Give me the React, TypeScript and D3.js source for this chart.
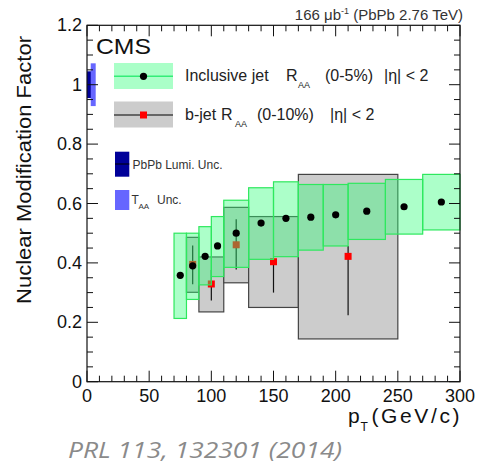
import React from 'react';
import * as d3 from 'd3';

// inclusive jet R_AA (0-5%)
const incPt = [75, 85, 95, 105, 120, 140, 160, 180, 200, 225, 255, 285];
const incLo = [70, 80, 90, 100, 110, 130, 150, 170, 190, 210, 240, 270];
const incHi = [80, 90, 100, 110, 130, 150, 170, 190, 210, 240, 270, 300];
const incVal = [0.358, 0.39, 0.422, 0.457, 0.5, 0.534, 0.55, 0.554, 0.562, 0.574, 0.589, 0.605];
const incSysLo = [0.213, 0.277, 0.326, 0.354, 0.385, 0.412, 0.421, 0.443, 0.457, 0.479, 0.497, 0.511];
const incSysHi = [0.5, 0.5, 0.522, 0.556, 0.611, 0.653, 0.673, 0.664, 0.664, 0.668, 0.681, 0.698];

// b-jet R_AA (0-10%)
const bPt = [85, 100, 120, 150, 210];
const bLo = [80, 90, 110, 130, 170];
const bHi = [90, 110, 130, 170, 250];
const bVal = [0.395, 0.329, 0.461, 0.404, 0.422];
const bStatLo = [0.328, 0.273, 0.378, 0.3, 0.224];
const bStatHi = [0.459, 0.376, 0.547, 0.404, 0.457];
const bSysLo = [0.301, 0.235, 0.333, 0.25, 0.144];
const bSysHi = [0.486, 0.42, 0.587, 0.556, 0.698];

// normalisation uncertainties at unity
const lumiUnc = 0.045;
const taaUnc = 0.072;

const xTicks = [0, 50, 100, 150, 200, 250, 300];
const yTicks = [0, 0.2, 0.4, 0.6, 0.8, 1, 1.2];

const W = 479;
const H = 463;
const left = 87, right = 460, top = 25.3, bottom = 381.7;

const App = () => {
  const x = d3.scaleLinear().domain([0, 300]).range([left, right]);
  const y = d3.scaleLinear().domain([0, 1.2]).range([bottom, top]);

  const xMinor = d3.range(0, 301, 10);
  const yMinor = d3.range(0, 1.2001, 0.05);

  const font = 'Liberation Sans, Arial, sans-serif';
  const ink = '#111';

  const inc = incPt.map((p, i) => ({ p, lo: incLo[i], hi: incHi[i], v: incVal[i], sl: incSysLo[i], sh: incSysHi[i] }));
  const bj = bPt.map((p, i) => ({ p, lo: bLo[i], hi: bHi[i], v: bVal[i], el: bStatLo[i], eh: bStatHi[i], sl: bSysLo[i], sh: bSysHi[i] }));

  const greenFill = 'rgba(47,255,121,0.4)';
  const greenEdge = '#2ee85e';

  return (
    <svg width={W} height={H} style={{ position: 'absolute', left: 0, top: 0, background: '#fff' }}>
      {/* normalisation boxes */}
      <rect x={x(0)} y={y(1 + lumiUnc)} width={x(4) - x(0)} height={y(1 - lumiUnc) - y(1 + lumiUnc)} fill="#000099" />
      <rect x={x(3)} y={y(1 + taaUnc)} width={x(7) - x(3)} height={y(1 - taaUnc) - y(1 + taaUnc)} fill="#6666ff" />

      {/* b-jet systematics */}
      {bj.map((d, i) => (
        <rect key={'bs' + i} x={x(d.lo)} y={y(d.sh)} width={x(d.hi) - x(d.lo)} height={y(d.sl) - y(d.sh)}
          fill="#cccccc" stroke="#444" strokeWidth={1.2} />
      ))}
      {bj.map((d, i) => (
        <g key={'bp' + i}>
          <line x1={x(d.p)} x2={x(d.p)} y1={y(d.eh)} y2={y(d.el)} stroke={ink} strokeWidth={1.2} />
          <rect x={x(d.p) - 3.5} y={y(d.v) - 3.5} width={7} height={7} fill="#ff0000" />
        </g>
      ))}

      {/* inclusive systematics */}
      {inc.map((d, i) => (
        <rect key={'is' + i} x={x(d.lo)} y={y(d.sh)} width={x(d.hi) - x(d.lo)} height={y(d.sl) - y(d.sh)}
          fill={greenFill} stroke={greenEdge} strokeWidth={1.2} />
      ))}
      {inc.map((d, i) => (
        <circle key={'ip' + i} cx={x(d.p)} cy={y(d.v)} r={3.6} fill="#000" />
      ))}

      {/* frame */}
      <rect x={left} y={top} width={right - left} height={bottom - top} fill="none" stroke={ink} strokeWidth={1.2} />
      {xMinor.map((t) => {
        const major = t % 50 === 0;
        const len = major ? 11 : 6;
        return (
          <g key={'xt' + t}>
            <line x1={x(t)} x2={x(t)} y1={bottom} y2={bottom - len} stroke={ink} />
            <line x1={x(t)} x2={x(t)} y1={top} y2={top + len} stroke={ink} />
          </g>
        );
      })}
      {yMinor.map((t, i) => {
        const major = i % 4 === 0;
        const len = major ? 11 : 6;
        return (
          <g key={'yt' + i}>
            <line x1={left} x2={left + len} y1={y(t)} y2={y(t)} stroke={ink} />
            <line x1={right} x2={right - len} y1={y(t)} y2={y(t)} stroke={ink} />
          </g>
        );
      })}
      {xTicks.map((t) => (
        <text key={'xl' + t} x={x(t)} y={401.5} textAnchor="middle" fontFamily={font} fontSize={18} fill={ink}>{t}</text>
      ))}
      {yTicks.map((t) => (
        <text key={'yl' + t} x={82} y={y(t) + 6} textAnchor="end" fontFamily={font} fontSize={18} fill={ink}>{d3.format('~g')(t)}</text>
      ))}

      {/* axis titles */}
      <text x={348} y={423} fontFamily={font} fontSize={21} fill={ink}>p</text>
      <text x={360.5} y={431} fontFamily={font} fontSize={12} fill={ink}>T</text>
      <text x={371.5} y={423} fontFamily={font} fontSize={21} fill={ink} textLength={88} lengthAdjust="spacing">(GeV/c)</text>
      <text transform="translate(31,170) rotate(-90)" textAnchor="middle" fontFamily={font} fontSize={20} fill={ink}
        textLength={268} lengthAdjust="spacingAndGlyphs">Nuclear Modification Factor</text>
      <text x={463} y={19.5} textAnchor="end" fontFamily={font} fontSize={15} fill="#333">
        <tspan>166 μb</tspan><tspan fontSize={9} dy={-6}>-1</tspan><tspan dy={6}> (PbPb 2.76 TeV)</tspan>
      </text>
      <text x={96} y={53.5} fontFamily={font} fontSize={22} fill={ink} textLength={55} lengthAdjust="spacingAndGlyphs">CMS</text>

      {/* legend */}
      <rect x={114} y={63} width={59} height={26} fill="#aaffc8" />
      <line x1={114} x2={173} y1={76.3} y2={76.3} stroke="#33ee77" strokeWidth={1.5} />
      <circle cx={143.5} cy={76.3} r={3.6} fill="#000" />
      <text y={81} fontFamily={font} fontSize={16} fill="#222">
        <tspan x={185}>Inclusive jet</tspan>
        <tspan x={286}>R</tspan>
        <tspan x={298} dy={7} fontSize={9}>AA</tspan>
        <tspan x={325} dy={-7}>(0-5%)</tspan>
        <tspan x={384}>|η| &lt; 2</tspan>
      </text>
      <rect x={114} y={101.5} width={59} height={26} fill="#cccccc" />
      <line x1={114} x2={173} y1={115} y2={115} stroke="#000" strokeWidth={1.2} />
      <rect x={140} y={111.5} width={7} height={7} fill="#ff0000" />
      <text y={120} fontFamily={font} fontSize={16} fill="#222">
        <tspan x={185}>b-jet</tspan>
        <tspan x={221}>R</tspan>
        <tspan x={235} dy={7} fontSize={9}>AA</tspan>
        <tspan x={257} dy={-7}>(0-10%)</tspan>
        <tspan x={330}>|η| &lt; 2</tspan>
      </text>
      <rect x={115} y={151.7} width={14.3} height={25} fill="#000099" />
      <line x1={115} x2={129.3} y1={164} y2={164} stroke="#000" />
      <text x={132.5} y={168.5} fontFamily={font} fontSize={12} fill="#333">PbPb Lumi. Unc.</text>
      <rect x={115} y={190} width={14.3} height={20} fill="#6666ff" />
      <text y={204} fontFamily={font} fontSize={12} fill="#333">
        <tspan x={131.5}>T</tspan><tspan x={138.5} dy={5} fontSize={8}>AA</tspan><tspan x={157} dy={-5}>Unc.</tspan>
      </text>

      {/* citation */}
      <text x={68} y={458} fontFamily="Open Sans, sans-serif" fontStyle="italic" fontSize={22} fill="#8a8a8a"
        textLength={274} lengthAdjust="spacingAndGlyphs">PRL 113, 132301 (2014)</text>
    </svg>
  );
};

export default App;
